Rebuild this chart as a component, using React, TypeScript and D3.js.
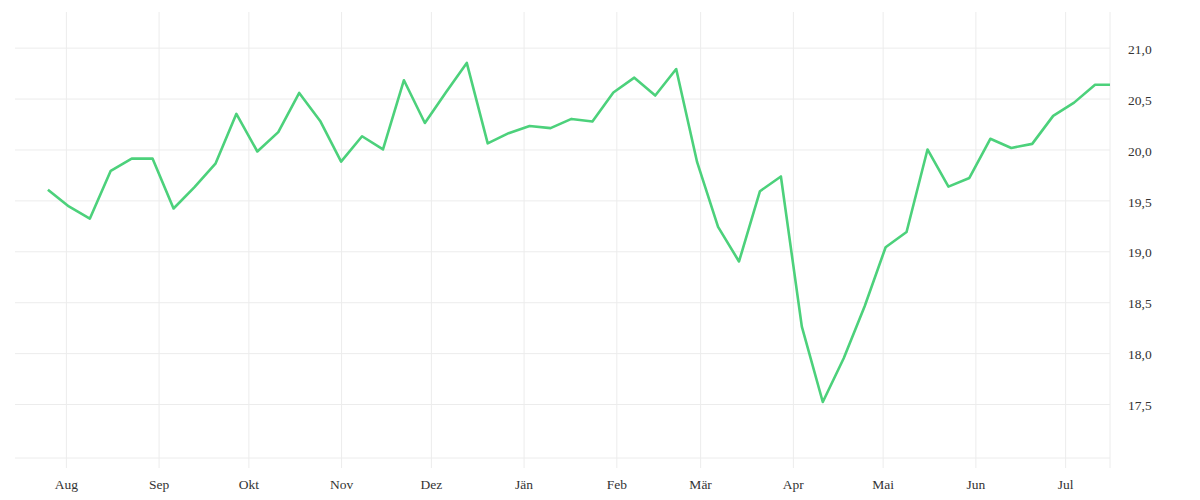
import React, { useEffect, useRef } from 'react'
import * as d3 from 'd3'

// weekly values, Jul 2022 – Jul 2023
const startDate = '2022-07-26'
const lastDate = '2023-07-16'
const values = [
  19.605, 19.44, 19.32, 19.79, 19.91, 19.91, 19.42, 19.63, 19.86, 20.35,
  19.98, 20.17, 20.555, 20.28, 19.88, 20.13, 20.0, 20.68, 20.26, 20.56,
  20.85, 20.06, 20.16, 20.23, 20.21, 20.3, 20.275, 20.56, 20.705, 20.53,
  20.79, 19.875, 19.24, 18.9, 19.59, 19.735, 18.26, 17.52, 17.95, 18.46,
  19.04, 19.19, 20.0, 19.635, 19.72, 20.105, 20.015, 20.055, 20.33, 20.46,
  20.635, 20.635
]
const monthLabels = ['Aug', 'Sep', 'Okt', 'Nov', 'Dez', 'Jän', 'Feb', 'Mär', 'Apr', 'Mai', 'Jun', 'Jul']
const yTicks = [17.5, 18.0, 18.5, 19.0, 19.5, 20.0, 20.5, 21.0]
const xDomain = ['2022-07-15', '2023-07-16']
const yDomain = [16.97, 21.35]

const parse = d3.utcParse('%Y-%m-%d')

const App: React.FC = () => {
  const svgRef = useRef<SVGSVGElement>(null)
  const width = 1200
  const height = 500

  useEffect(() => {
    if (!svgRef.current) return
    const svg = d3.select(svgRef.current)
    svg.selectAll('*').remove()

    const left = 15
    const right = 1110
    const top = 12
    const bottom = 458
    const tickBottom = 468

    // dates: weekly from startDate, last point is a partial week
    const first = parse(startDate) as Date
    const data = values.map((v, i) => ({
      date: i === values.length - 1 ? (parse(lastDate) as Date) : d3.utcDay.offset(first, i * 7),
      value: v
    }))

    const x = d3.scaleUtc()
      .domain(xDomain.map(d => parse(d) as Date))
      .range([left, right])

    const y = d3.scaleLinear()
      .domain(yDomain)
      .range([bottom, top])

    const locale = d3.formatLocale({ decimal: ',', thousands: '.', grouping: [3], currency: ['', ' €'] })
    const fmt = locale.format('.1f')

    const font = '"Liberation Serif", serif'
    const gridColor = '#ececec'

    // Y axis (right) with gridlines
    const yAxis = svg.append('g')
      .attr('transform', `translate(${right},0)`)
      .call(d3.axisRight(y)
        .tickValues(yTicks)
        .tickSize(-(right - left))
        .tickPadding(18)
        .tickFormat(d => fmt(d as number)))
    yAxis.select('.domain').remove()
    yAxis.selectAll('line').attr('stroke', gridColor)
    yAxis.selectAll('text')
      .attr('dy', '0.42em')
      .attr('fill', '#333')
      .style('font-family', font)
      .style('font-size', '13.5px')

    // X axis with vertical gridlines
    const monthTicks = d3.utcMonth.range(parse('2022-08-01') as Date, parse('2023-07-02') as Date)
    const xAxis = svg.append('g')
      .attr('transform', `translate(0,${tickBottom})`)
      .call(d3.axisBottom(x)
        .tickValues(monthTicks)
        .tickSize(-(tickBottom - top))
        .tickPadding(11)
        .tickFormat((d, i) => monthLabels[i]))
    xAxis.select('.domain').remove()
    xAxis.selectAll('line').attr('stroke', gridColor)
    xAxis.selectAll('text')
      .attr('fill', '#333')
      .style('font-family', font)
      .style('font-size', '13.5px')

    // baseline and right edge
    svg.append('line')
      .attr('x1', left).attr('x2', right)
      .attr('y1', bottom).attr('y2', bottom)
      .attr('stroke', gridColor)
    svg.append('line')
      .attr('x1', right).attr('x2', right)
      .attr('y1', top).attr('y2', tickBottom)
      .attr('stroke', gridColor)

    // Line
    const line = d3.line<{ date: Date; value: number }>()
      .x(d => x(d.date))
      .y(d => y(d.value))

    svg.append('path')
      .datum(data)
      .attr('fill', 'none')
      .attr('stroke', '#4cd17b')
      .attr('stroke-width', 2.6)
      .attr('stroke-linejoin', 'round')
      .attr('d', line)
  }, [])

  return (
    <svg
      ref={svgRef}
      width={width}
      height={height}
      style={{ position: 'absolute', left: 0, top: 0, background: '#fff' }}
    />
  )
}

export default App
